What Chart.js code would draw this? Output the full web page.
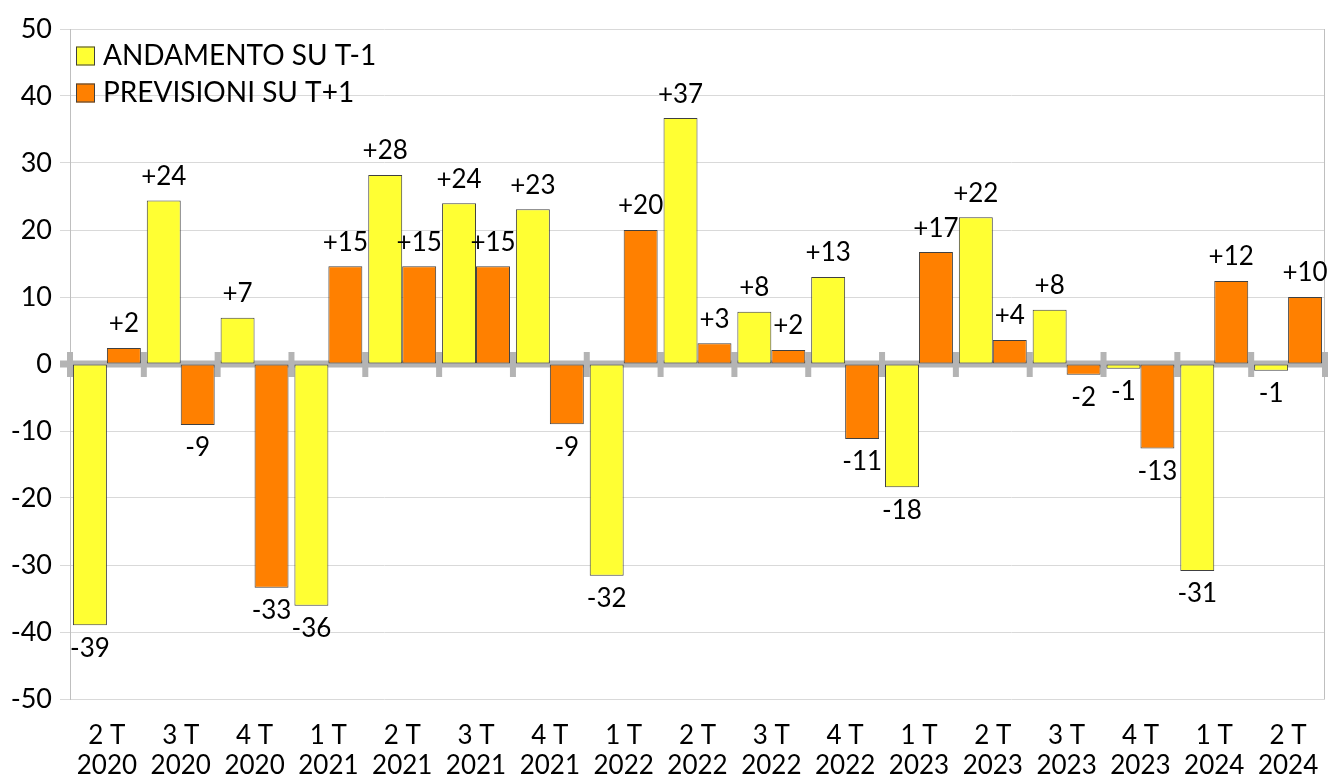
<!DOCTYPE html>
<html>
<head>
<meta charset="utf-8">
<script src="https://cdn.jsdelivr.net/npm/chart.js@4/dist/chart.umd.min.js"></script>
<style>
html,body{margin:0;padding:0;background:#fff;}
#c{display:block;}
</style>
</head>
<body>
<canvas id="c" width="1329" height="776"></canvas>
<script>
const quarters = ['2 T','3 T','4 T','1 T','2 T','3 T','4 T','1 T','2 T','3 T','4 T','1 T','2 T','3 T','4 T','1 T','2 T'];
const years = ['2020','2020','2020','2021','2021','2021','2021','2022','2022','2022','2022','2023','2023','2023','2023','2024','2024'];
const seriesNames = ['ANDAMENTO SU T-1','PREVISIONI SU T+1'];
const andamento = [-39.0, 24.4, 6.9, -36.1, 28.2, 24.0, 23.1, -31.6, 36.7, 7.8, 13.0, -18.4, 21.9, 8.1, -0.7, -30.9, -1.0];
const previsioni = [2.4, -9.1, -33.4, 14.6, 14.6, 14.6, -9.0, 20.0, 3.1, 2.1, -11.2, 16.7, 3.6, -1.6, -12.6, 12.4, 10.0];

const FONT = 'Lato, "Open Sans", sans-serif';
const YELLOW = '#FFFF33';
const ORANGE = '#FF8000';
const EDGE = '#404040';
const AXIS_GRAY = '#b4b4b4';

const labels = quarters.map((q, i) => [q, years[i]]);

const zeroAxisPlugin = {
  id: 'zeroAxis',
  beforeDatasetsDraw(chart) {
    const {ctx, chartArea, scales} = chart;
    const x = scales.x, y = scales.y;
    const y0 = y.getPixelForValue(0);
    const half = (x.getPixelForValue(1) - x.getPixelForValue(0)) / 2;
    ctx.save();
    ctx.strokeStyle = '#bfbfbf';
    ctx.lineWidth = 1;
    ctx.beginPath();
    ctx.moveTo(chartArea.right - 0.5, chartArea.top);
    ctx.lineTo(chartArea.right - 0.5, chartArea.bottom);
    ctx.stroke();
    ctx.fillStyle = AXIS_GRAY;
    ctx.fillRect(chartArea.left - 10, y0 - 3.5, chartArea.right - chartArea.left + 10, 7);
    for (let i = 0; i <= quarters.length; i++) {
      const bx = x.getPixelForValue(i) - half;
      ctx.fillRect(bx - 3, y0 - 12, 6, 25);
    }
    ctx.restore();
  }
};

const dataLabelPlugin = {
  id: 'dataLabels',
  afterDatasetsDraw(chart) {
    const {ctx} = chart;
    ctx.save();
    ctx.font = '26px ' + FONT;
    ctx.fillStyle = '#000';
    ctx.textAlign = 'center';
    ctx.textBaseline = 'middle';
    chart.data.datasets.forEach((ds, di) => {
      const meta = chart.getDatasetMeta(di);
      meta.data.forEach((bar, i) => {
        const v = ds.data[i];
        const r = Math.round(v);
        const txt = (r > 0 ? '+' : '') + r;
        const ty = v >= 0 ? bar.y - 24 : bar.y + 23;
        ctx.fillText(txt, bar.x, ty);
      });
    });
    ctx.restore();
  }
};

const legendPlugin = {
  id: 'insideLegend',
  afterDraw(chart) {
    const {ctx, chartArea} = chart;
    ctx.save();
    chart.data.datasets.forEach((ds, i) => {
      const cy = chartArea.top + 27 + i * 37;
      const bx = chartArea.left + 6;
      ctx.fillStyle = ds.backgroundColor;
      ctx.fillRect(bx, cy - 9.5, 19, 19);
      ctx.strokeStyle = EDGE;
      ctx.lineWidth = 1;
      ctx.strokeRect(bx + 0.5, cy - 9, 18, 18);
      ctx.fillStyle = '#000';
      ctx.font = '28px ' + FONT;
      ctx.textAlign = 'left';
      ctx.textBaseline = 'middle';
      ctx.fillText(ds.label, chartArea.left + 33, cy);
    });
    ctx.restore();
  }
};

new Chart(document.getElementById('c'), {
  type: 'bar',
  data: {
    labels: labels,
    datasets: [
      {label: seriesNames[0], data: andamento, backgroundColor: YELLOW, borderColor: EDGE, borderWidth: 1, borderSkipped: false},
      {label: seriesNames[1], data: previsioni, backgroundColor: ORANGE, borderColor: EDGE, borderWidth: 1, borderSkipped: false}
    ]
  },
  options: {
    responsive: false,
    devicePixelRatio: 1,
    animation: false,
    layout: {padding: {top: 29, right: 4, left: 0, bottom: 0}},
    datasets: {bar: {categoryPercentage: 0.92, barPercentage: 1.0}},
    plugins: {legend: {display: false}, tooltip: {enabled: false}},
    scales: {
      x: {
        grid: {display: false, drawTicks: false},
        border: {display: false},
        ticks: {color: '#000', font: {family: FONT, size: 26, lineHeight: 1.154}, padding: 22, maxRotation: 0, autoSkip: false},
        afterFit(scale) { scale.height = 77; scale.paddingLeft = 0; scale.paddingRight = 0; }
      },
      y: {
        min: -50, max: 50,
        ticks: {stepSize: 10, color: '#000', font: {family: FONT, size: 27}, padding: 8},
        grid: {
          tickLength: 10,
          color: (c) => c.tick && c.tick.value === 0 ? 'rgba(0,0,0,0)' : '#d9d9d9',
          lineWidth: 1,
          z: -1
        },
        border: {display: true, color: '#bfbfbf', width: 1},
        afterFit(scale) { scale.width = 70; }
      }
    }
  },
  plugins: [zeroAxisPlugin, dataLabelPlugin, legendPlugin]
});
</script>
</body>
</html>
